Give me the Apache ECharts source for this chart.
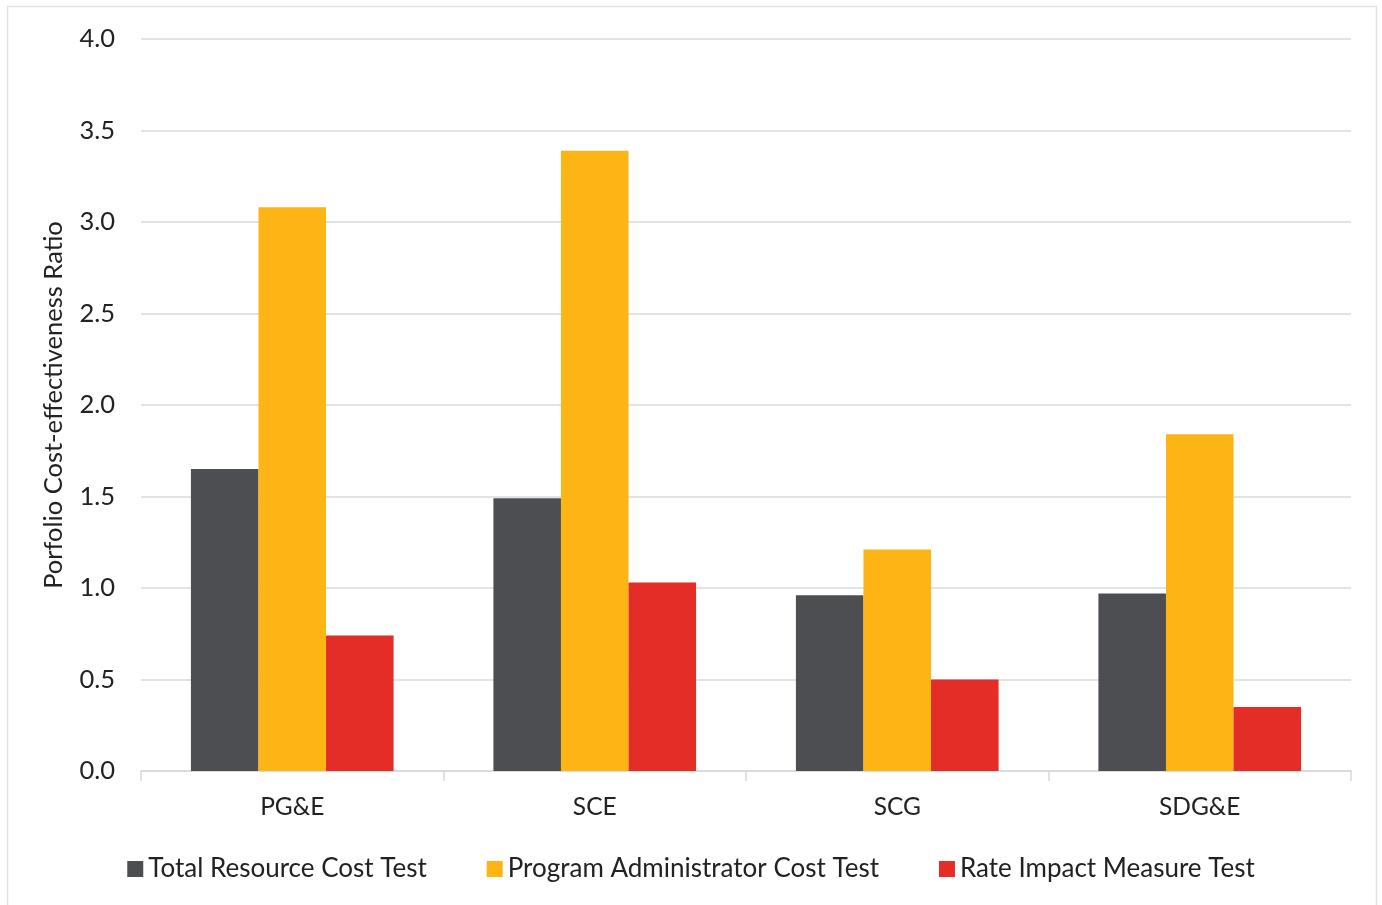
<!DOCTYPE html>
<html>
<head>
<meta charset="utf-8">
<script src="https://cdn.jsdelivr.net/npm/echarts@6/dist/echarts.min.js"></script>
<style>
html,body{margin:0;padding:0;background:#fff;}
#chart{width:1382px;height:905px;}
</style>
</head>
<body>
<div id="chart"></div>
<script>
const categories = ['PG&E', 'SCE', 'SCG', 'SDG&E'];
const seriesNames = ['Total Resource Cost Test', 'Program Administrator Cost Test', 'Rate Impact Measure Test'];
const trcValues = [1.65, 1.49, 0.96, 0.97];
const pacValues = [3.08, 3.39, 1.21, 1.84];
const rimValues = [0.74, 1.03, 0.50, 0.35];
const colors = ['#4d4e52', '#fdb515', '#e32d26'];
const fontFamily = 'Lato, "Open Sans", sans-serif';

const chart = echarts.init(document.getElementById('chart'));
const values = [trcValues, pacValues, rimValues];
chart.setOption({
  animation: false,
  backgroundColor: '#fff',
  textStyle: { fontFamily: fontFamily },
  graphic: [{
    type: 'rect',
    shape: { x: 7.5, y: 6.5, width: 1369, height: 910 },
    style: { fill: 'none', stroke: '#e3e3e3', lineWidth: 1.5 },
    silent: true
  }],
  grid: { left: 141, right: 31, top: 39, bottom: 134, containLabel: false },
  legend: {
    bottom: 18,
    left: 'center',
    itemWidth: 16,
    itemHeight: 16,
    itemGap: 60,
    icon: 'rect',
    textStyle: { fontSize: 26, color: '#222', fontFamily: fontFamily },
    data: seriesNames
  },
  xAxis: {
    type: 'category',
    data: categories,
    axisLine: { lineStyle: { color: '#d9d9d9', width: 1.5 } },
    axisTick: { show: true, length: 10, lineStyle: { color: '#d9d9d9', width: 1.5 } },
    axisLabel: { fontSize: 24.5, color: '#222', margin: 24, fontFamily: fontFamily }
  },
  yAxis: {
    type: 'value',
    min: 0,
    max: 4,
    interval: 0.5,
    name: 'Porfolio Cost-effectiveness Ratio',
    nameLocation: 'middle',
    nameGap: 74,
    nameRotate: 90,
    nameTextStyle: { fontSize: 25.5, color: '#222', fontFamily: fontFamily },
    axisLine: { show: false },
    axisTick: { show: false },
    axisLabel: { fontSize: 25.5, color: '#222', margin: 26, fontFamily: fontFamily,
      formatter: v => v.toFixed(1) },
    splitLine: { lineStyle: { color: '#e3e3e3', width: 2 } }
  },
  series: seriesNames.map((name, i) => ({
    name: name,
    type: 'bar',
    data: values[i],
    barGap: '0%',
    barCategoryGap: '33%',
    itemStyle: { color: colors[i] }
  }))
});
</script>
</body>
</html>
